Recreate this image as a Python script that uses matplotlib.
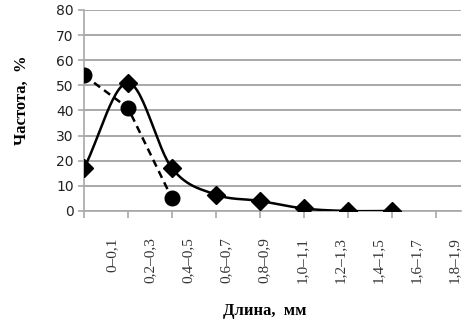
import numpy as np
import matplotlib.pyplot as plt

y_ticks = [0, 10, 20, 30, 40, 50, 60, 70, 80]
freq_a = [17, 51, 17, 6.5, 4, 1, 0, 0]
freq_b = [54, 41, 5]
x_labels = ['0–0,1', '0,2–0,3', '0,4–0,5', '0,6–0,7', '0,8–0,9',
            '1,0–1,1', '1,2–1,3', '1,4–1,5', '1,6–1,7', '1,8–1,9']


def smooth(x, y, n=30):
    # catmull-rom, like excel's smoothed line
    x = np.asarray(x, float)
    y = np.asarray(y, float)
    px = np.concatenate([[2 * x[0] - x[1]], x, [2 * x[-1] - x[-2]]])
    py = np.concatenate([[2 * y[0] - y[1]], y, [2 * y[-1] - y[-2]]])
    xs, ys = [], []
    t = np.linspace(0, 1, n)
    for i in range(1, len(px) - 2):
        for p, out in ((px, xs), (py, ys)):
            p0, p1, p2, p3 = p[i - 1], p[i], p[i + 1], p[i + 2]
            out.extend(0.5 * (2 * p1 + (-p0 + p2) * t
                              + (2 * p0 - 5 * p1 + 4 * p2 - p3) * t ** 2
                              + (-p0 + 3 * p1 - 3 * p2 + p3) * t ** 3))
    return np.array(xs), np.array(ys)


fig = plt.figure(figsize=(4.68, 3.29), dpi=100)
ax = fig.add_axes([0.1795, 0.3587, 0.8055, 0.611])

xa = np.arange(len(freq_a))
sx, sy = smooth(xa, freq_a)
ax.plot(sx, sy, color='black', lw=1.8, zorder=3)
ax.plot(xa, freq_a, ls='none', marker='D', ms=9, color='black', zorder=4)

xb = np.arange(len(freq_b))
ax.plot(xb, freq_b, color='black', lw=1.8, ls=(0, (3, 2)), marker='o', ms=10.5, zorder=4)

ax.set_xlim(0, 8.57)
ax.set_ylim(0, 80)
ax.set_yticks(y_ticks)
ax.set_xticks(np.arange(9))
ax.set_xticklabels([])
ax.yaxis.grid(True, color='#a8a8a8', lw=1.4)
ax.set_axisbelow(True)
for s in ['top', 'right']:
    ax.spines[s].set_visible(False)
for s in ['left', 'bottom']:
    ax.spines[s].set_color('#a8a8a8')
    ax.spines[s].set_linewidth(1.2)
ax.tick_params(axis='y', colors='#a8a8a8', labelcolor='#222222', labelsize=10, length=4, width=1.2)
ax.tick_params(axis='x', colors='#a8a8a8', length=5, width=1.2, direction='out')

for i, lab in enumerate(x_labels):
    ax.text(0.64 + 0.865 * i, -10.5, lab, rotation=90, ha='center', va='top',
            fontsize=11, family='Liberation Serif', color='#333333', clip_on=False)

fig.text(0.566, 0.055, 'Длина,  мм', ha='center', va='center', fontsize=12,
         family='Liberation Serif', weight='bold')
fig.text(0.047, 0.695, 'Частота,  %', ha='center', va='center', rotation=90,
         fontsize=12, family='Liberation Serif', weight='bold')

fig.savefig('out.png', dpi=100)
